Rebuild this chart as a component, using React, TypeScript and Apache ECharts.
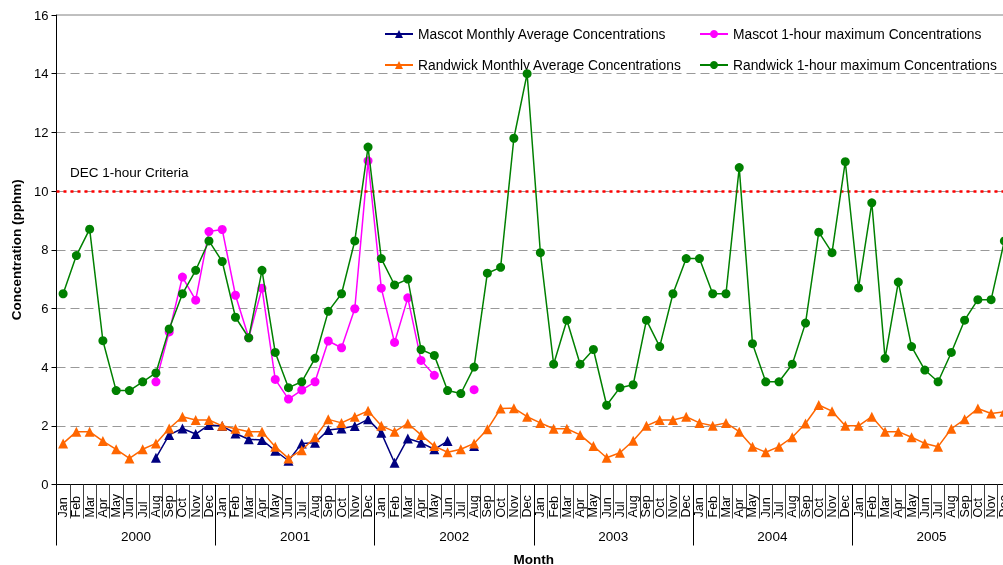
import React, { useEffect, useRef } from 'react';
import * as echarts from 'echarts';

const years = ['2000', '2001', '2002', '2003', '2004', '2005'];
const monthNames = ['Jan', 'Feb', 'Mar', 'Apr', 'May', 'Jun', 'Jul', 'Aug', 'Sep', 'Oct', 'Nov', 'Dec'];

const mascotAvg: (number | null)[] = [
  null, null, null, null, null, null, null, 0.91, 1.69, 1.91, 1.72, 2.03,
  1.99, 1.74, 1.54, 1.52, 1.15, 0.81, 1.40, 1.42, 1.86, 1.91, 1.99, 2.22,
  1.76, 0.74, 1.57, 1.42, 1.20, 1.48, null, 1.31, null, null, null, null,
  null, null, null, null, null, null, null, null, null, null, null, null,
  null, null, null, null, null, null, null, null, null, null, null, null,
  null, null, null, null, null, null, null, null, null, null, null, null,
];

const mascotMax: (number | null)[] = [
  null, null, null, null, null, null, null, 3.50, 5.20, 7.07, 6.28, 8.62,
  8.69, 6.45, 5.0, 6.69, 3.58, 2.91, 3.22, 3.50, 4.89, 4.66, 5.99, 11.03,
  6.69, 4.84, 6.36, 4.23, 3.72, null, null, 3.23, null, null, null, null,
  null, null, null, null, null, null, null, null, null, null, null, null,
  null, null, null, null, null, null, null, null, null, null, null, null,
  null, null, null, null, null, null, null, null, null, null, null, null,
];

const randwickAvg: number[] = [
  1.4, 1.8, 1.8, 1.48, 1.2, 0.89, 1.2, 1.4, 1.91, 2.31, 2.2, 2.2,
  2.0, 1.9, 1.8, 1.8, 1.29, 0.89, 1.17, 1.61, 2.22, 2.1, 2.31, 2.51,
  2.0, 1.8, 2.08, 1.69, 1.31, 1.1, 1.2, 1.4, 1.88, 2.59, 2.6, 2.31,
  2.1, 1.9, 1.9, 1.69, 1.31, 0.91, 1.08, 1.49, 2.0, 2.2, 2.2, 2.31,
  2.1, 2.0, 2.1, 1.8, 1.29, 1.1, 1.29, 1.61, 2.08, 2.71, 2.5, 2.0,
  2.0, 2.31, 1.8, 1.8, 1.61, 1.4, 1.29, 1.9, 2.22, 2.59, 2.42, 2.48,
];

const randwickMax: number[] = [
  6.5, 7.8, 8.7, 4.9, 3.2, 3.2, 3.5, 3.8, 5.3, 6.5, 7.3, 8.3,
  7.6, 5.7, 5.0, 7.3, 4.5, 3.3, 3.5, 4.3, 5.9, 6.5, 8.3, 11.5,
  7.7, 6.8, 7.0, 4.6, 4.4, 3.2, 3.1, 4.0, 7.2, 7.4, 11.8, 14.0,
  7.9, 4.1, 5.6, 4.1, 4.6, 2.7, 3.3, 3.4, 5.6, 4.7, 6.5, 7.7,
  7.7, 6.5, 6.5, 10.8, 4.8, 3.5, 3.5, 4.1, 5.5, 8.6, 7.9, 11.0,
  6.7, 9.6, 4.3, 6.9, 4.7, 3.9, 3.5, 4.5, 5.6, 6.3, 6.3, 8.3,
];

const criteriaValue = 10;
const criteriaLabel = 'DEC 1-hour Criteria';
const seriesNames = [
  'Mascot Monthly Average Concentrations',
  'Mascot 1-hour maximum Concentrations',
  'Randwick Monthly Average Concentrations',
  'Randwick 1-hour maximum Concentrations',
];

const FONT = '"Liberation Sans", Arial, sans-serif';

export default function App() {
  const ref = useRef<HTMLDivElement>(null);
  useEffect(() => {
    if (!ref.current) return;
    const chart = echarts.init(ref.current, undefined, { renderer: 'svg' });
    const monthCats: string[] = [];
    years.forEach(() => monthNames.forEach((m) => monthCats.push(m)));

    const lineSeries = (name: string, data: (number | null)[], color: string, symbol: string, z: number) => ({
      name,
      type: 'line',
      data,
      xAxisIndex: 0,
      yAxisIndex: 0,
      symbol,
      symbolSize: symbol === 'circle' ? 9 : 10,
      connectNulls: false,
      z,
      lineStyle: { color, width: 1.5 },
      itemStyle: { color },
      emphasis: { disabled: true },
    });

    const s0: any = lineSeries(seriesNames[0], mascotAvg, '#000080', 'triangle', 2);
    const s1: any = lineSeries(seriesNames[1], mascotMax, '#FF00FF', 'circle', 3);
    const s2: any = lineSeries(seriesNames[2], randwickAvg, '#FF6600', 'triangle', 4);
    const s3: any = lineSeries(seriesNames[3], randwickMax, '#008000', 'circle', 5);
    s0.markLine = {
      silent: true,
      symbol: 'none',
      label: { show: false },
      lineStyle: { color: '#FF0000', type: [3, 4], width: 2.5 },
      data: [{ yAxis: criteriaValue }],
    };

    chart.setOption({
      animation: false,
      textStyle: { fontFamily: FONT },
      grid: {
        left: 56.5,
        top: 15,
        right: 0,
        height: 469.5,
        outerBoundsMode: 'none',
        containLabel: false,
        show: true,
        borderColor: '#808080',
        borderWidth: 1,
        backgroundColor: 'transparent',
      },
      legend: [
        {
          data: [seriesNames[0], seriesNames[2]],
          orient: 'vertical',
          left: 379,
          top: 22,
          itemWidth: 28,
          itemHeight: 10,
          itemGap: 17,
          textStyle: { fontSize: 13.8, color: '#000', fontFamily: FONT },
        },
        {
          data: [seriesNames[1], seriesNames[3]],
          orient: 'vertical',
          left: 694,
          top: 22,
          itemWidth: 28,
          itemHeight: 10,
          itemGap: 17,
          textStyle: { fontSize: 13.8, color: '#000', fontFamily: FONT },
        },
      ],
      xAxis: [
        {
          type: 'category',
          data: monthCats,
          position: 'bottom',
          boundaryGap: true,
          axisLine: { show: true, lineStyle: { color: '#000', width: 1 } },
          axisTick: { show: true, interval: 0, length: 34, lineStyle: { color: '#404040' } },
          axisLabel: {
            interval: 0,
            rotate: 90,
            align: 'left',
            fontSize: 12.5,
            color: '#000',
            margin: 33,
            fontFamily: FONT,
          },
          splitLine: { show: false },
        },
        {
          type: 'category',
          data: years,
          position: 'bottom',
          boundaryGap: true,
          axisLine: { show: false },
          axisTick: { show: true, interval: 0, length: 61, lineStyle: { color: '#000' } },
          axisLabel: { interval: 0, fontSize: 13.5, color: '#000', margin: 45, fontFamily: FONT },
          splitLine: { show: false },
          name: 'Month',
          nameLocation: 'middle',
          nameGap: 67.5,
          nameTextStyle: { fontSize: 13.5, fontWeight: 'bold', color: '#000', fontFamily: FONT },
        },
      ],
      yAxis: {
        type: 'value',
        min: 0,
        max: 16,
        interval: 2,
        axisLine: { show: true, lineStyle: { color: '#000', width: 1 } },
        axisTick: { show: true, length: 5, lineStyle: { color: '#000' } },
        axisLabel: { fontSize: 13, color: '#000', margin: 8, fontFamily: FONT },
        splitLine: {
          show: true,
          showMinLine: false,
          showMaxLine: false,
          lineStyle: { color: '#999999', type: [9, 5], width: 1.2 },
        },
        name: 'Concentration (pphm)',
        nameLocation: 'middle',
        nameGap: 33,
        nameTextStyle: { fontSize: 13.5, fontWeight: 'bold', color: '#000', fontFamily: FONT },
      },
      graphic: [
        {
          type: 'text',
          left: 70,
          top: 165,
          style: { text: criteriaLabel, font: `13.5px ${FONT}`, fill: '#000' },
        },
      ],
      series: [s0, s1, s2, s3],
    });
    return () => chart.dispose();
  }, []);
  return (
    <div style={{ position: 'fixed', left: 0, top: 0, width: 1003, height: 565, overflow: 'hidden' }}>
      <div ref={ref} style={{ width: 1011, height: 565 }} />
    </div>
  );
}
